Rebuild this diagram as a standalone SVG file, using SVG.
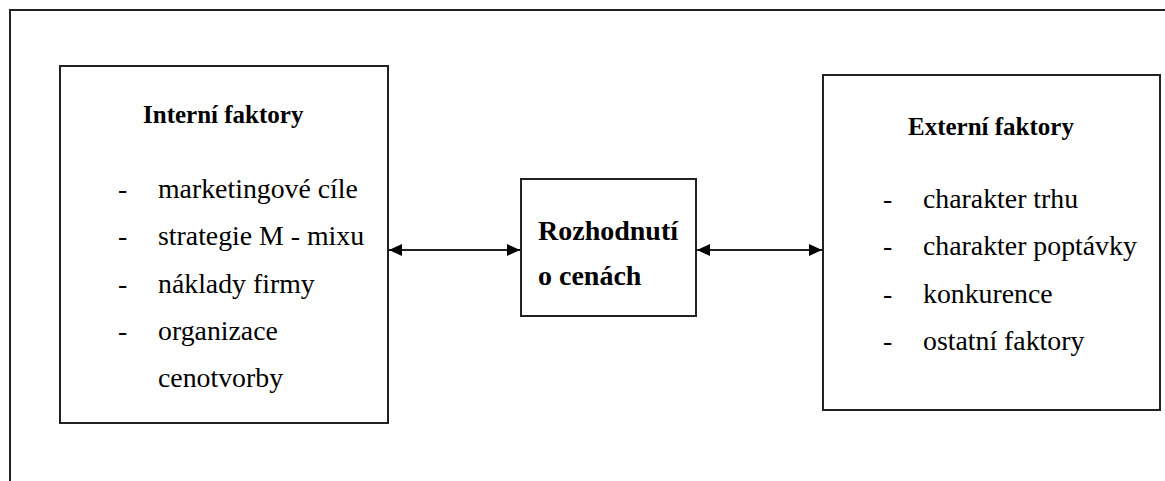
<svg xmlns="http://www.w3.org/2000/svg" width="1165" height="481" viewBox="0 0 1165 481">
  <style>
    .box { fill: #ffffff; stroke: #222222; stroke-width: 2; }
    .frame { fill: none; stroke: #222222; stroke-width: 2; }
    .link { stroke: #222222; stroke-width: 2; fill: none; }
    .item { font-family: "Liberation Serif", "Times New Roman", serif; font-size: 27.8px; fill: #000000; }
    .head { font-family: "Liberation Serif", "Times New Roman", serif; font-size: 25px; font-weight: bold; fill: #000000; }
    .headlg { font-family: "Liberation Serif", "Times New Roman", serif; font-size: 28px; font-weight: bold; fill: #000000; }
  </style>
  <defs>
    <marker id="arrow" viewBox="0 0 13 12" refX="13" refY="6" markerWidth="13" markerHeight="12" markerUnits="userSpaceOnUse" orient="auto-start-reverse">
      <path d="M0,0 L13,6 L0,12 Z" fill="#000000"/>
    </marker>
  </defs>
  <rect width="1165" height="481" fill="#ffffff"/>

  <!-- outer frame (open on the right and bottom) -->
  <path class="frame" d="M10,481 L10,10 L1165,10"/>

  <g id="interni">
    <rect class="box" x="60" y="66" width="328" height="357"/>
    <text class="head" x="143" y="123">Interní faktory</text>
    <text class="item" x="118" y="198">-</text>
    <text class="item" x="158" y="198">marketingové cíle</text>
    <text class="item" x="118" y="245">-</text>
    <text class="item" x="158" y="245">strategie M - mixu</text>
    <text class="item" x="118" y="293">-</text>
    <text class="item" x="158" y="293">náklady firmy</text>
    <text class="item" x="118" y="340">-</text>
    <text class="item" x="158" y="340">organizace</text>
    <text class="item" x="158" y="387">cenotvorby</text>
  </g>

  <g id="rozhodnuti">
    <rect class="box" x="521" y="179" width="175" height="137"/>
    <text class="headlg" x="538" y="240">Rozhodnutí</text>
    <text class="headlg" x="538" y="285">o cenách</text>
  </g>

  <g id="externi">
    <rect class="box" x="823" y="75" width="337" height="335"/>
    <text class="head" x="908" y="135">Externí faktory</text>
    <text class="item" x="883" y="208">-</text>
    <text class="item" x="923" y="208">charakter trhu</text>
    <text class="item" x="883" y="255">-</text>
    <text class="item" x="923" y="255">charakter poptávky</text>
    <text class="item" x="883" y="303">-</text>
    <text class="item" x="923" y="303">konkurence</text>
    <text class="item" x="883" y="350">-</text>
    <text class="item" x="923" y="350">ostatní faktory</text>
  </g>

  <g id="connectors">
    <line class="link" x1="389" y1="250" x2="520" y2="250" marker-start="url(#arrow)" marker-end="url(#arrow)"/>
    <line class="link" x1="697" y1="250" x2="822" y2="250" marker-start="url(#arrow)" marker-end="url(#arrow)"/>
  </g>
</svg>
